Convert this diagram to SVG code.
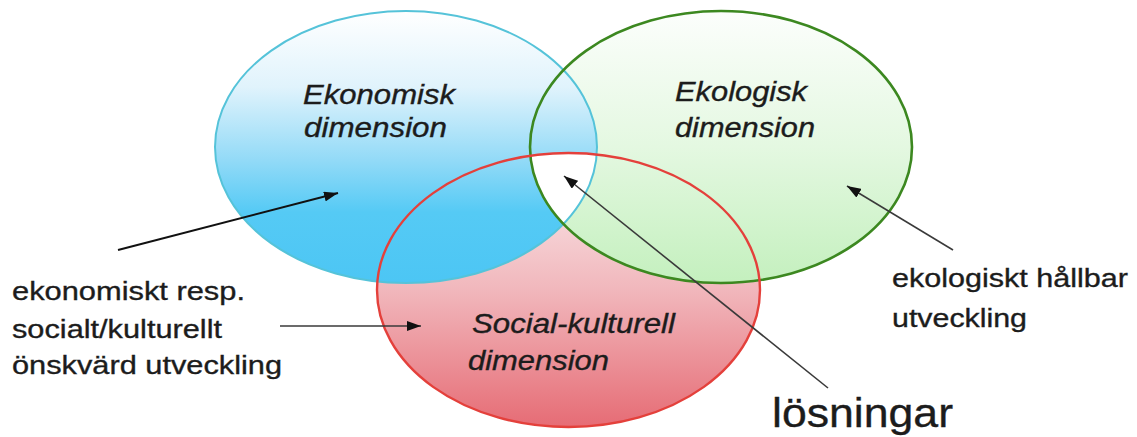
<svg xmlns="http://www.w3.org/2000/svg" width="1137" height="437" viewBox="0 0 1137 437">
  <style>
    .label { font-family: "Liberation Sans", Arial, sans-serif; fill: #1c1c1c; stroke: #1c1c1c; stroke-width: 0.35; }
    .dim { font-size: 27px; font-style: italic; }
    .note { font-size: 26px; }
    .big { font-size: 40px; }
    .outline { fill: none; }
    .conn { fill: none; stroke: #3a3a3a; stroke-width: 1.6; }
  </style>
  <defs>
    <linearGradient id="gBlue" x1="0" y1="0" x2="0" y2="1">
      <stop offset="0" stop-color="#ffffff"/>
      <stop offset="0.28" stop-color="#e0f3fc"/>
      <stop offset="0.55" stop-color="#92daf7"/>
      <stop offset="0.74" stop-color="#55caf5"/>
      <stop offset="1" stop-color="#4cc6f4"/>
    </linearGradient>
    <linearGradient id="gGreen" x1="0" y1="0" x2="0" y2="1">
      <stop offset="0" stop-color="#fcfefc"/>
      <stop offset="0.5" stop-color="#e4f8e1"/>
      <stop offset="1" stop-color="#c4f0be"/>
    </linearGradient>
    <linearGradient id="gRed" x1="0" y1="0" x2="0" y2="1">
      <stop offset="0" stop-color="#fbf0f1"/>
      <stop offset="0.5" stop-color="#f1b7bc"/>
      <stop offset="1" stop-color="#e66c75"/>
    </linearGradient>
    <clipPath id="clipBlue"><ellipse cx="406" cy="147" rx="191" ry="136"/></clipPath>
    <clipPath id="clipGreen"><ellipse cx="721" cy="147" rx="191" ry="136"/></clipPath>
    <marker id="arrow" viewBox="0 0 14 10" refX="14" refY="5" markerWidth="14" markerHeight="10" markerUnits="userSpaceOnUse" orient="auto">
      <path d="M0,0 L14,5 L0,10 Z" fill="#111"/>
    </marker>
  </defs>

  <!-- filled areas: red under green under blue, common centre left white -->
  <g id="fills">
    <ellipse cx="568.5" cy="290" rx="191.5" ry="137" fill="url(#gRed)"/>
    <ellipse cx="721" cy="147" rx="191" ry="136" fill="url(#gGreen)"/>
    <ellipse cx="406" cy="147" rx="191" ry="136" fill="url(#gBlue)"/>
    <g clip-path="url(#clipBlue)">
      <g clip-path="url(#clipGreen)">
        <ellipse cx="568.5" cy="290" rx="191.5" ry="137" fill="#ffffff"/>
      </g>
    </g>
  </g>

  <g id="node-ekonomisk">
    <ellipse class="outline" cx="406" cy="147" rx="191" ry="136" stroke="#55c3d9" stroke-width="2"/>
    <text class="label dim" x="303" y="104" textLength="152" lengthAdjust="spacingAndGlyphs">Ekonomisk</text>
    <text class="label dim" x="304" y="137" textLength="143" lengthAdjust="spacingAndGlyphs">dimension</text>
  </g>

  <g id="node-ekologisk">
    <ellipse class="outline" cx="721" cy="147" rx="191" ry="136" stroke="#3c8820" stroke-width="2.6"/>
    <text class="label dim" x="675" y="101" textLength="132" lengthAdjust="spacingAndGlyphs">Ekologisk</text>
    <text class="label dim" x="675" y="137" textLength="140" lengthAdjust="spacingAndGlyphs">dimension</text>
  </g>

  <g id="node-social">
    <ellipse class="outline" cx="568.5" cy="290" rx="191.5" ry="137" stroke="#e4403b" stroke-width="2.4"/>
    <text class="label dim" x="472" y="333" textLength="203" lengthAdjust="spacingAndGlyphs">Social-kulturell</text>
    <text class="label dim" x="468" y="370" textLength="141" lengthAdjust="spacingAndGlyphs">dimension</text>
  </g>

  <g id="note-ekonomiskt">
    <text class="label note" x="12" y="300" textLength="233" lengthAdjust="spacingAndGlyphs">ekonomiskt resp.</text>
    <text class="label note" x="12" y="338" textLength="210" lengthAdjust="spacingAndGlyphs">socialt/kulturellt</text>
    <text class="label note" x="12" y="374" textLength="270" lengthAdjust="spacingAndGlyphs">önskvärd utveckling</text>
  </g>

  <g id="note-ekologiskt">
    <text class="label note" x="892" y="287" textLength="236" lengthAdjust="spacingAndGlyphs">ekologiskt hållbar</text>
    <text class="label note" x="892" y="327" textLength="135" lengthAdjust="spacingAndGlyphs">utveckling</text>
  </g>

  <g id="note-losningar">
    <text class="label big" x="772" y="427" textLength="181" lengthAdjust="spacingAndGlyphs">lösningar</text>
  </g>

  <g id="connectors">
    <line class="conn" x1="118" y1="250" x2="338" y2="193" style="stroke:#111;stroke-width:2" marker-end="url(#arrow)"/>
    <line class="conn" x1="280" y1="326" x2="421" y2="326" marker-end="url(#arrow)"/>
    <line class="conn" x1="953" y1="250" x2="847" y2="186" marker-end="url(#arrow)"/>
    <line class="conn" x1="828" y1="388" x2="564" y2="176" marker-end="url(#arrow)"/>
  </g>
</svg>
